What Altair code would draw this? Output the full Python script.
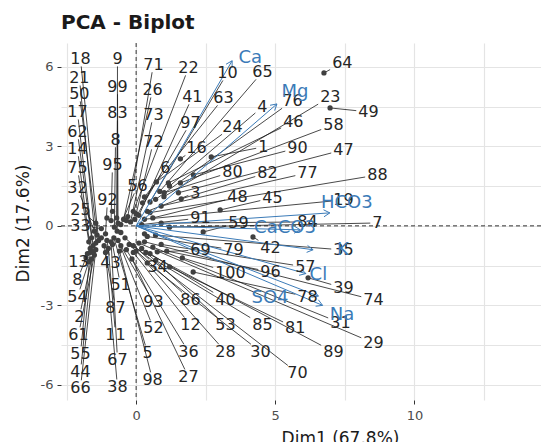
import math
import altair as alt
import pandas as pd

# ---------------- data ----------------
ind_text = ["18", "21", "50", "17", "62", "14", "75", "32", "25", "33", "13", "8", "54", "2", "61", "55", "44", "66",
            "9", "99", "83", "8", "95", "92", "43", "51", "87", "11", "67", "38",
            "71", "26", "73", "72", "6", "56", "34", "93", "52", "5", "98", "86", "12", "36", "27",
            "22", "41", "97", "16", "10", "65", "64", "63", "4", "76", "23", "49", "24", "46", "58",
            "1", "90", "47", "80", "82", "77", "88", "3", "48", "45", "19", "91", "59", "84", "7",
            "42", "69", "79", "35", "57", "100", "96", "39", "74", "78", "40", "31", "53", "85", "81",
            "29", "28", "30", "89", "70"]
ind_lab_x = [-2.00, -2.04, -2.04, -2.11, -2.11, -2.11, -2.11, -2.11, -2.00, -2.00, -2.07, -2.11, -2.11, -2.04, -2.07, -2.00, -2.00, -2.00,
             -0.67, -0.67, -0.67, -0.74, -0.85, -1.03, -0.92, -0.56, -0.74, -0.74, -0.67, -0.67,
             0.62, 0.59, 0.62, 0.62, 1.05, 0.05, 0.77, 0.62, 0.62, 0.41, 0.59, 1.95, 1.95, 1.88, 1.88,
             1.88, 2.02, 1.95, 2.17, 3.28, 4.54, 7.41, 3.14, 4.54, 5.62, 6.98, 8.35, 3.46, 5.65, 7.09,
             4.57, 5.80, 7.45, 3.46, 4.72, 6.16, 8.67, 2.13, 3.64, 4.90, 7.45, 2.31, 3.68, 6.16, 8.67,
             4.83, 2.31, 3.50, 7.45, 6.08, 3.39, 4.83, 7.45, 8.53, 6.16, 3.21, 7.34, 3.21, 4.54, 5.72,
             8.53, 3.21, 4.47, 7.09, 5.80]
ind_lab_y = [6.30, 5.58, 4.98, 4.30, 3.55, 2.91, 2.19, 1.43, 0.60, 0.00, -1.36, -2.04, -2.68, -3.43, -4.11, -4.83, -5.51, -6.11,
             6.30, 5.25, 4.26, 3.25, 2.30, 0.98, -1.40, -2.23, -3.09, -4.11, -5.06, -6.08,
             6.08, 5.13, 4.19, 3.17, 2.19, 1.51, -1.55, -2.87, -3.85, -4.79, -5.81, -2.79, -3.74, -4.75, -5.70,
             5.96, 4.87, 3.89, 2.94, 5.77, 5.81, 6.15, 4.83, 4.49, 4.72, 4.87, 4.30, 3.74, 3.92, 3.81,
             2.98, 2.94, 2.87, 2.04, 2.00, 2.00, 1.92, 1.25, 1.09, 1.06, 0.98, 0.30, 0.11, 0.15, 0.11,
             -0.83, -0.91, -0.91, -0.91, -1.55, -1.77, -1.74, -2.34, -2.79, -2.68, -2.79, -3.66, -3.74, -3.74, -3.85,
             -4.42, -4.75, -4.75, -4.75, -5.55]
ind_x = [-1.35, -1.45, -1.40, -1.55, -1.60, -1.65, -1.70, -1.50, -1.45, -1.25, -1.75, -1.80, -1.70, -1.60, -1.50, -1.65, -1.55, -1.45,
         -0.68, -0.65, -0.70, -0.78, -0.90, -1.10, -1.05, -0.85, -1.15, -1.00, -0.90, -1.10,
         -0.30, -0.45, -0.20, 0.00, 0.23, -0.55, -0.40, -0.55, -0.65, -0.80, -0.60, -0.25, -0.10, -0.35, -0.15,
         -0.10, 0.10, -0.05, 1.59, 0.50, 0.85, 6.75, 0.30, 1.20, 0.70, 1.00, 6.97, 0.73, 1.16, 1.59,
         2.70, 2.06, 1.52, 1.01, 1.62, 0.90, 0.50, 0.40, 0.60, 3.02, 0.30, 0.20, 2.41, 0.90, 1.20,
         4.20, 0.76, 0.40, 0.70, 0.90, 1.66, 1.10, 6.18, 0.30, 2.05, 0.50, 0.60, 0.20, 0.70, 1.20,
         0.10, 0.00, 0.40, 0.35, -0.10]
ind_y = [-0.55, -0.65, -0.35, -0.75, -0.45, -0.85, -0.60, -0.20, 0.10, -0.10, -1.05, -1.20, -1.35, -1.25, -1.10, -1.00, -0.95, -0.90,
         -0.20, 0.10, 0.30, -0.05, 0.20, -0.30, -0.55, -0.70, -0.75, -0.85, -0.60, -1.00,
         0.35, 0.25, 0.15, 0.45, 0.87, 0.05, -0.45, -0.75, -0.55, -0.45, -0.95, -0.70, -1.00, -0.90, -1.25,
         0.55, 0.40, 0.25, 2.53, 0.90, 1.30, 5.77, 1.09, 1.50, 1.00, 1.10, 4.45, 1.66, 1.62, 1.62,
         2.60, 1.92, 1.25, 1.25, 1.02, 0.75, 0.50, 0.55, 0.30, 0.60, 0.25, 0.05, -0.23, 0.10, -0.05,
         -0.42, -0.98, -0.40, -0.35, -0.70, -1.21, -0.95, -1.96, -0.60, -1.74, -1.05, -0.80, -0.85, -1.30, -1.55,
         -0.65, -0.95, -1.40, -1.00, -0.75]
# individuals whose labels are buried in the central cluster (not readable)
hidden_x = [-0.35, -1.05, -0.55, 0.30, -1.25, -0.85]
hidden_y = [0.20, 0.30, -0.25, -0.30, -0.45, 0.55]

var_names = ["Ca", "Mg", "HCO3", "CaCO3", "K", "Cl", "SO4", "Na"]
var_x = [3.45, 5.06, 6.96, 5.90, 6.36, 6.10, 6.55, 6.70]
var_y = [6.23, 4.60, 0.49, -0.15, -0.90, -1.80, -2.65, -3.00]
var_lab_x = [4.10, 5.71, 7.57, 5.35, 7.43, 6.55, 4.81, 7.40]
var_lab_y = [6.34, 5.06, 0.87, -0.08, -0.90, -1.85, -2.72, -3.36]

x_ticks = [-2.5, 0, 2.5, 5, 7.5, 10, 12.5]
y_ticks = [-6, -4.5, -3, -1.5, 0, 1.5, 3, 4.5, 6]
x_dom = [-2.7, 14.55]
y_dom = [-6.57, 6.9]

# ---------------- layout ----------------
W, H = 480, 357
SX = W / (x_dom[1] - x_dom[0])
SY = H / (y_dom[1] - y_dom[0])
FONT = "DejaVu Sans"
BLUE = "#3B7BB8"

ind = pd.DataFrame({"t": ind_text, "lx": ind_lab_x, "ly": ind_lab_y, "px": ind_x, "py": ind_y})
allpts = pd.DataFrame({"px": ind_x + hidden_x, "py": ind_y + hidden_y})

# segment from label box edge to point (repel style)
rows = []
for r in ind.itertuples():
    dxp = (r.px - r.lx) * SX
    dyp = (r.py - r.ly) * SY
    hw = len(r.t) * 5.1 + 2
    hh = 7.5
    tx = hw / abs(dxp) if dxp != 0 else math.inf
    ty = hh / abs(dyp) if dyp != 0 else math.inf
    t = min(tx, ty)
    if t < 1:
        rows.append({"sx": r.lx + t * (r.px - r.lx), "sy": r.ly + t * (r.py - r.ly), "px": r.px, "py": r.py})
seg = pd.DataFrame(rows)

var = pd.DataFrame({"n": var_names, "x": var_x, "y": var_y, "lx": var_lab_x, "ly": var_lab_y})
var["x0"] = 0.0
var["y0"] = 0.0
barbs = []
for r in var.itertuples():
    th = math.atan2(r.y * SY, r.x * SX)
    for s in (1, -1):
        a = th + s * math.pi / 6
        barbs.append({"tx": r.x, "ty": r.y,
                      "bx": r.x - 7 * math.cos(a) / SX,
                      "by": r.y - 7 * math.sin(a) / SY})
barb = pd.DataFrame(barbs)

xs = alt.Scale(domain=x_dom, nice=False, zero=False)
ys = alt.Scale(domain=y_dom, nice=False, zero=False)

x_axis = alt.Axis(values=x_ticks,
                  labelExpr="datum.value % 5 === 0 ? '' + datum.value : ''",
                  tickColor={"condition": {"test": "datum.value % 5 === 0", "value": "#333333"}, "value": "transparent"},
                  tickSize=4, labelFont=FONT, labelFontSize=13, labelColor="#4D4D4D", labelPadding=5,
                  labelOverlap=False, grid=True, gridColor="#E4E4E4", gridWidth=1.2, domain=False,
                  title="Dim1 (67.8%)", titleFont=FONT, titleFontSize=17, titleFontWeight="normal",
                  titleColor="#1a1a1a", titleX=279, titleY=38, titleBaseline="middle", titleAlign="center")
y_axis = alt.Axis(values=y_ticks,
                  labelExpr="datum.value % 3 === 0 ? '' + datum.value : ''",
                  tickColor={"condition": {"test": "datum.value % 3 === 0", "value": "#333333"}, "value": "transparent"},
                  tickSize=4, labelFont=FONT, labelFontSize=13, labelColor="#4D4D4D", labelPadding=4,
                  labelOverlap=False, grid=True, gridColor="#E4E4E4", gridWidth=1.2, domain=False,
                  title="Dim2 (17.6%)", titleFont=FONT, titleFontSize=17, titleFontWeight="normal",
                  titleColor="#1a1a1a", titleX=-38, titleY=180, titleBaseline="middle", titleAlign="center",
                  titleAngle=270)


def X(f):
    return alt.X(f, type="quantitative", scale=xs, axis=x_axis)


def Y(f):
    return alt.Y(f, type="quantitative", scale=ys, axis=y_axis)


zero = pd.DataFrame({"v": [0]})
vline = alt.Chart(zero).mark_rule(color="#333333", strokeDash=[4, 3], strokeWidth=1).encode(x=X("v"))
hline = alt.Chart(zero).mark_rule(color="#333333", strokeDash=[4, 3], strokeWidth=1).encode(y=Y("v"))

segs = alt.Chart(seg).mark_rule(color="#1a1a1a", strokeWidth=0.8).encode(
    x=X("sx"), y=Y("sy"), x2="px", y2="py")
pts = alt.Chart(allpts).mark_circle(color="#404040", opacity=1, size=28).encode(x=X("px"), y=Y("py"))

arrows = alt.Chart(var).mark_rule(color=BLUE, strokeWidth=1).encode(
    x=X("x0"), y=Y("y0"), x2="x", y2="y")
heads = alt.Chart(barb).mark_rule(color=BLUE, strokeWidth=1).encode(
    x=X("bx"), y=Y("by"), x2="tx", y2="ty")

ind_labels = alt.Chart(ind).mark_text(font=FONT, fontSize=16, color="#262626",
                                      align="center", baseline="middle").encode(
    x=X("lx"), y=Y("ly"), text="t:N")
var_labels = alt.Chart(var).mark_text(font=FONT, fontSize=18, color=BLUE,
                                      align="center", baseline="middle").encode(
    x=X("lx"), y=Y("ly"), text="n:N")

chart = alt.layer(vline, hline, segs, pts, arrows, heads, ind_labels, var_labels).properties(
    width=W, height=H,
    autosize=alt.AutoSizeParams(type="none"),
    padding={"left": 61, "top": 43, "right": 0, "bottom": 42},
    title=alt.TitleParams("PCA - Biplot", anchor="start", frame="group", font=FONT, fontSize=20,
                          fontWeight="bold", color="#1a1a1a", offset=10),
).configure_view(stroke=None)

chart.save("out.html", embed_options={"renderer": "svg", "actions": False})
